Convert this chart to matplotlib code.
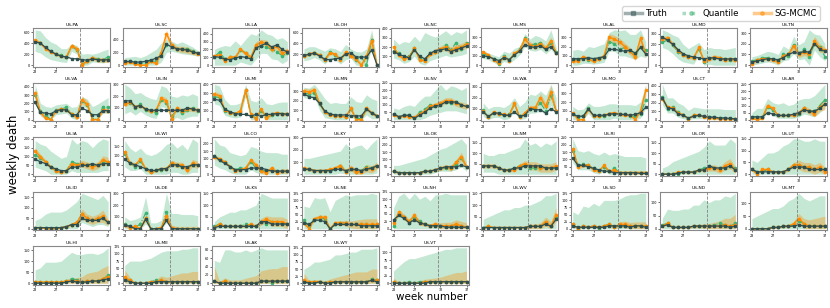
import numpy as np
import matplotlib.pyplot as plt
from matplotlib.lines import Line2D
from matplotlib.ticker import MultipleLocator

weeks = list(range(23, 38))
week_ticks = [23, 27, 32, 37]
forecast_start = 31.6

states = ['US-PA', 'US-SC', 'US-LA', 'US-OH', 'US-NC', 'US-MS', 'US-AL', 'US-MD', 'US-TN',
          'US-VA', 'US-IN', 'US-MI', 'US-MN', 'US-NV', 'US-WA', 'US-MO', 'US-CT', 'US-AR',
          'US-IA', 'US-WI', 'US-CO', 'US-KY', 'US-OK', 'US-NM', 'US-RI', 'US-OR', 'US-UT',
          'US-ID', 'US-DE', 'US-KS', 'US-NE', 'US-NH', 'US-WV', 'US-SD', 'US-ND', 'US-MT',
          'US-HI', 'US-ME', 'US-AK', 'US-WY', 'US-VT']

y_step = [200, 200, 100, 200, 100, 100, 100, 100, 100,
          100, 100, 100, 100, 50, 100, 100, 100, 50,
          50, 50, 50, 100, 50, 50, 50, 50, 50,
          50, 100, 50, 25, 25, 50, 25, 50, 50,
          50, 25, 20, 25, 25]

truth = [
    [420, 400, 320, 250, 200, 160, 150, 120, 115, 100, 90, 110, 100, 95, 100],
    [60, 60, 50, 50, 60, 80, 110, 150, 330, 290, 260, 250, 240, 210, 190],
    [110, 100, 80, 70, 90, 110, 100, 80, 220, 250, 280, 230, 260, 200, 170],
    [180, 200, 220, 170, 110, 100, 120, 130, 200, 230, 150, 150, 150, 280, 10],
    [150, 120, 100, 80, 170, 100, 70, 130, 160, 170, 180, 150, 170, 190, 210],
    [100, 90, 70, 50, 80, 60, 110, 150, 220, 200, 190, 210, 170, 200, 130],
    [70, 70, 70, 80, 70, 80, 90, 170, 170, 160, 150, 160, 130, 190, 120],
    [270, 240, 200, 150, 110, 90, 80, 70, 60, 70, 70, 60, 60, 60, 60],
    [30, 40, 50, 60, 60, 50, 70, 100, 120, 110, 130, 120, 200, 150, 130],
    [210, 90, 80, 70, 110, 120, 120, 60, 60, 140, 110, 60, 60, 110, 110],
    [160, 160, 110, 120, 90, 80, 80, 80, 80, 80, 80, 80, 100, 90, 80],
    [230, 220, 120, 90, 70, 60, 60, 40, 60, 40, 60, 60, 70, 70, 60],
    [270, 240, 230, 170, 90, 60, 50, 50, 50, 40, 40, 40, 110, 70, 40],
    [40, 20, 30, 30, 10, 30, 50, 80, 90, 100, 120, 120, 120, 100, 90],
    [70, 30, 60, 60, 40, 40, 70, 30, 40, 100, 90, 90, 60, 100, 70],
    [60, 40, 40, 120, 50, 50, 50, 60, 70, 60, 60, 50, 60, 80, 140],
    [260, 140, 130, 70, 50, 20, 40, 50, 40, 30, 30, 20, 20, 15, 10],
    [20, 20, 20, 50, 40, 30, 30, 30, 40, 50, 70, 60, 60, 80, 110],
    [85, 70, 60, 40, 30, 20, 20, 40, 40, 50, 50, 60, 50, 60, 60],
    [80, 60, 50, 40, 30, 20, 20, 30, 30, 50, 50, 40, 40, 50, 50],
    [120, 90, 70, 50, 30, 30, 30, 40, 40, 40, 30, 20, 20, 20, 20],
    [40, 40, 30, 30, 30, 30, 40, 40, 30, 40, 40, 30, 40, 50, 70],
    [20, 10, 10, 10, 10, 10, 20, 20, 30, 40, 50, 50, 50, 60, 50],
    [40, 40, 40, 30, 20, 20, 30, 30, 40, 40, 40, 40, 30, 30, 30],
    [110, 60, 60, 50, 40, 30, 20, 20, 10, 10, 10, 10, 10, 5, 5],
    [0, 0, 0, 5, 10, 10, 10, 20, 20, 40, 30, 30, 30, 40, 20],
    [20, 10, 10, 10, 10, 10, 10, 20, 30, 30, 30, 20, 20, 20, 20],
    [5, 5, 5, 5, 5, 5, 10, 20, 20, 50, 40, 40, 40, 50, 30],
    [30, 20, 0, 0, 80, 0, 0, 0, 70, 0, 0, 0, 0, 0, 0],
    [5, 10, 10, 10, 10, 10, 10, 10, 10, 30, 30, 20, 20, 20, 20],
    [20, 15, 30, 30, 25, 0, 15, 15, 15, 15, 15, 10, 10, 10, 10],
    [30, 45, 35, 20, 30, 20, 15, 10, 10, 10, 5, 5, 5, 5, 5],
    [5, 5, 5, 5, 5, 5, 5, 5, 5, 10, 10, 10, 20, 10, 40],
    [10, 5, 5, 5, 5, 5, 5, 10, 10, 10, 10, 5, 10, 10, 5],
    [10, 15, 5, 5, 5, 5, 10, 10, 10, 10, 10, 10, 10, 5, 10],
    [0, 0, 0, 0, 5, 5, 10, 10, 10, 15, 10, 10, 10, 10, 10],
    [0, 0, 0, 0, 0, 0, 5, 10, 5, 5, 5, 10, 10, 15, 20],
    [10, 5, 0, 0, 0, 0, 5, 5, 5, 5, 5, 5, 5, 5, 5],
    [5, 0, 0, 0, 0, 0, 0, 0, 0, 5, 5, 5, 5, 5, 5],
    [5, 0, 0, 5, 0, 0, 5, 5, 5, 5, 5, 5, 5, 10, 5],
    [0, 0, 0, 0, 0, 0, 0, 5, 5, 5, 5, 5, 5, 5, 5],
]

quantile = [
    [440, 400, 310, 250, 200, 180, 140, 340, 280, 20, 70, 130, 110, 100, 150],
    [50, 60, 40, 30, 40, 70, 60, 170, 320, 310, 260, 250, 260, 230, 190],
    [100, 170, 80, 100, 90, 190, 160, 100, 230, 240, 230, 200, 170, 120, 150],
    [170, 200, 230, 180, 100, 240, 190, 110, 210, 200, 100, 150, 0, 460, 0],
    [160, 130, 80, 100, 190, 70, 60, 130, 150, 170, 220, 170, 250, 180, 250],
    [120, 100, 70, 10, 100, 60, 110, 170, 290, 210, 230, 240, 170, 240, 140],
    [70, 60, 80, 60, 70, 70, 90, 250, 230, 170, 190, 150, 100, 200, 160],
    [220, 240, 190, 130, 100, 80, 70, 160, 30, 70, 70, 70, 60, 50, 60],
    [40, 50, 70, 70, 60, 40, 100, 90, 190, 110, 150, 80, 200, 170, 80],
    [300, 100, 60, 0, 120, 130, 150, 70, 50, 230, 180, 10, 0, 160, 150],
    [140, 140, 100, 130, 80, 70, 60, 170, 140, 30, 80, 60, 80, 100, 70],
    [260, 250, 100, 80, 60, 90, 330, 50, 20, 100, 30, 50, 70, 70, 60],
    [280, 270, 280, 160, 80, 60, 40, 40, 30, 110, 30, 0, 110, 70, 40],
    [40, 20, 30, 30, 10, 50, 70, 100, 90, 100, 120, 110, 120, 100, 90],
    [90, 20, 60, 50, 40, 50, 140, 30, 50, 100, 100, 150, 80, 220, 80],
    [70, 30, 40, 130, 40, 40, 40, 70, 60, 60, 60, 40, 40, 70, 220],
    [270, 130, 150, 90, 50, 10, 60, 50, 40, 30, 30, 20, 20, 10, 10],
    [20, 20, 20, 90, 70, 30, 30, 30, 30, 40, 80, 60, 60, 100, 140],
    [110, 90, 70, 40, 20, 10, 20, 70, 60, 60, 50, 50, 50, 70, 70],
    [110, 60, 40, 70, 30, 10, 20, 20, 30, 60, 50, 40, 30, 50, 50],
    [120, 90, 80, 50, 30, 40, 40, 80, 40, 30, 20, 30, 20, 20, 20],
    [40, 40, 30, 30, 30, 30, 40, 70, 30, 40, 20, 30, 60, 50, 70],
    [20, 10, 10, 10, 10, 10, 20, 20, 30, 40, 40, 40, 70, 110, 50],
    [40, 40, 40, 30, 20, 20, 30, 40, 40, 30, 30, 30, 30, 30, 30],
    [160, 60, 70, 60, 40, 20, 50, 20, 40, 10, 10, 10, 10, 10, 10],
    [0, 0, 0, 0, 10, 10, 10, 20, 30, 40, 30, 30, 30, 40, 30],
    [20, 10, 10, 20, 10, 10, 10, 20, 40, 40, 30, 30, 20, 20, 20],
    [5, 5, 5, 0, 5, 5, 10, 20, 30, 70, 50, 40, 50, 50, 30],
    [40, 20, 10, 40, 130, 0, 0, 0, 140, 0, 0, 0, 0, 0, 0],
    [10, 20, 10, 10, 10, 10, 20, 10, 10, 30, 20, 30, 30, 20, 20],
    [30, 10, 30, 40, 35, 0, 15, 20, 20, 15, 15, 15, 15, 10, 15],
    [10, 50, 40, 20, 40, 25, 15, 10, 10, 10, 10, 10, 10, 10, 5],
    [5, 10, 5, 5, 5, 5, 5, 5, 5, 10, 10, 10, 30, 10, 50],
    [15, 0, 10, 5, 10, 0, 10, 15, 5, 10, 10, 10, 10, 10, 10],
    [15, 20, 5, 5, 5, 5, 10, 10, 10, 10, 15, 20, 15, 10, 20],
    [0, 0, 0, 0, 5, 5, 10, 10, 15, 30, 20, 10, 10, 10, 10],
    [5, 5, 5, 5, 5, 5, 10, 20, 15, 5, 10, 10, 10, 20, 35],
    [15, 10, 0, 0, 0, 5, 10, 10, 5, 5, 5, 5, 5, 5, 5],
    [5, 0, 5, 0, 0, 0, 0, 0, 0, 5, 5, 0, 5, 5, 5],
    [5, 5, 5, 5, 0, 5, 5, 5, 5, 5, 5, 5, 5, 15, 10],
    [5, 0, 0, 5, 0, 5, 5, 5, 5, 5, 5, 5, 5, 5, 5],
]

quantile_lo = [
    [250, 220, 150, 100, 80, 60, 50, 250, 200, 0, 0, 60, 50, 40, 60],
    [0, 0, 0, 0, 0, 0, 0, 50, 200, 220, 200, 180, 170, 160, 140],
    [0, 0, 0, 0, 0, 40, 20, 0, 80, 150, 150, 80, 70, 20, 60],
    [80, 100, 140, 100, 20, 120, 100, 20, 100, 130, 0, 0, 0, 300, 0],
    [80, 60, 20, 40, 100, 20, 0, 50, 70, 90, 110, 90, 100, 110, 130],
    [70, 60, 30, 0, 40, 20, 60, 110, 200, 160, 150, 170, 120, 170, 100],
    [0, 0, 20, 20, 10, 20, 30, 150, 150, 100, 100, 80, 60, 100, 80],
    [170, 150, 110, 60, 30, 20, 10, 100, 0, 10, 0, 0, 0, 0, 0],
    [0, 10, 20, 30, 20, 0, 40, 50, 110, 50, 60, 0, 140, 80, 40],
    [200, 50, 0, 0, 60, 70, 80, 20, 0, 170, 130, 0, 0, 80, 80],
    [50, 70, 40, 70, 40, 20, 10, 110, 100, 0, 20, 0, 20, 30, 30],
    [180, 160, 50, 30, 20, 30, 270, 0, 0, 50, 0, 0, 0, 0, 0],
    [230, 220, 240, 100, 20, 10, 0, 0, 0, 30, 0, 0, 50, 10, 10],
    [0, 0, 0, 0, 0, 0, 10, 30, 40, 50, 60, 60, 60, 50, 40],
    [30, 0, 20, 20, 0, 10, 70, 0, 10, 60, 60, 80, 40, 130, 40],
    [0, 0, 0, 70, 0, 0, 0, 0, 20, 0, 0, 0, 0, 20, 130],
    [180, 80, 80, 30, 10, 0, 10, 10, 10, 0, 0, 0, 0, 0, 0],
    [0, 0, 0, 50, 30, 10, 10, 10, 10, 20, 40, 30, 20, 50, 80],
    [40, 30, 20, 0, 0, 0, 0, 20, 10, 10, 10, 10, 10, 20, 20],
    [40, 20, 20, 30, 0, 0, 0, 0, 0, 10, 10, 0, 0, 10, 10],
    [60, 40, 30, 10, 0, 0, 0, 30, 10, 0, 0, 0, 0, 0, 0],
    [0, 0, 0, 0, 0, 0, 0, 10, 0, 0, 0, 0, 0, 0, 10],
    [0, 0, 0, 0, 0, 0, 0, 0, 10, 20, 20, 20, 30, 50, 20],
    [10, 10, 10, 0, 0, 0, 0, 0, 0, 0, 0, 0, 0, 0, 0],
    [80, 30, 30, 30, 10, 0, 20, 0, 0, 0, 0, 0, 0, 0, 0],
    [0, 0, 0, 0, 0, 0, 0, 0, 0, 0, 0, 0, 0, 0, 0],
    [0, 0, 0, 0, 0, 0, 0, 0, 0, 0, 0, 0, 0, 0, 0],
    [0, 0, 0, 0, 0, 0, 0, 0, 0, 30, 20, 10, 20, 20, 10],
    [0, 0, 0, 0, 40, 0, 0, 0, 50, 0, 0, 0, 0, 0, 0],
    [0, 0, 0, 0, 0, 0, 0, 0, 0, 0, 0, 0, 0, 0, 0],
    [0, 0, 0, 0, 0, 0, 0, 0, 0, 0, 0, 0, 0, 0, 0],
    [0, 0, 0, 0, 0, 0, 0, 0, 0, 0, 0, 0, 0, 0, 0],
    [0, 0, 0, 0, 0, 0, 0, 0, 0, 0, 0, 0, 0, 0, 0],
    [0, 0, 0, 0, 0, 0, 0, 0, 0, 0, 0, 0, 0, 0, 0],
    [0, 0, 0, 0, 0, 0, 0, 0, 0, 0, 0, 0, 0, 0, 0],
    [0, 0, 0, 0, 0, 0, 0, 0, 0, 0, 0, 0, 0, 0, 0],
    [0, 0, 0, 0, 0, 0, 0, 0, 0, 0, 0, 0, 0, 0, 0],
    [0, 0, 0, 0, 0, 0, 0, 0, 0, 0, 0, 0, 0, 0, 0],
    [0, 0, 0, 0, 0, 0, 0, 0, 0, 0, 0, 0, 0, 0, 0],
    [0, 0, 0, 0, 0, 0, 0, 0, 0, 0, 0, 0, 0, 0, 0],
    [0, 0, 0, 0, 0, 0, 0, 0, 0, 0, 0, 0, 0, 0, 0],
]

quantile_hi = [
    [640, 620, 500, 420, 380, 300, 300, 380, 360, 200, 210, 200, 220, 260, 290],
    [120, 130, 140, 120, 150, 200, 250, 350, 420, 380, 340, 370, 330, 290, 230],
    [200, 230, 250, 240, 310, 250, 330, 400, 380, 450, 400, 380, 330, 350, 300],
    [300, 340, 340, 300, 260, 320, 300, 250, 380, 300, 250, 240, 300, 650, 100],
    [290, 230, 260, 250, 320, 260, 360, 330, 310, 340, 380, 330, 370, 350, 390],
    [160, 130, 110, 90, 150, 130, 180, 200, 340, 280, 320, 300, 260, 380, 190],
    [160, 170, 150, 200, 190, 210, 230, 350, 380, 370, 380, 330, 330, 380, 250],
    [340, 320, 290, 270, 200, 160, 190, 220, 150, 170, 160, 160, 150, 160, 170],
    [80, 90, 110, 130, 120, 100, 180, 150, 270, 190, 220, 330, 290, 280, 200],
    [430, 200, 160, 150, 180, 190, 200, 150, 160, 280, 250, 160, 190, 230, 270],
    [300, 270, 220, 230, 200, 180, 170, 290, 270, 200, 190, 210, 200, 220, 200],
    [400, 380, 230, 170, 170, 190, 400, 220, 200, 250, 180, 170, 190, 200, 200],
    [340, 330, 370, 300, 220, 170, 180, 170, 170, 240, 190, 180, 260, 220, 200],
    [80, 70, 90, 100, 90, 130, 160, 160, 200, 240, 200, 230, 220, 200, 220],
    [150, 100, 120, 120, 110, 140, 200, 120, 160, 230, 220, 260, 220, 320, 200],
    [150, 110, 120, 190, 150, 150, 160, 180, 180, 170, 170, 170, 160, 200, 400],
    [420, 260, 260, 200, 170, 110, 150, 140, 130, 130, 130, 130, 120, 120, 120],
    [50, 80, 80, 150, 120, 110, 120, 100, 110, 140, 150, 150, 170, 210, 250],
    [190, 170, 160, 130, 110, 90, 100, 200, 170, 190, 180, 150, 180, 200, 190],
    [180, 140, 120, 140, 110, 100, 110, 130, 160, 170, 140, 160, 130, 190, 170],
    [230, 190, 180, 140, 130, 120, 130, 180, 170, 150, 140, 140, 140, 130, 130],
    [130, 130, 140, 150, 160, 170, 180, 190, 250, 210, 230, 240, 200, 250, 290],
    [60, 60, 70, 80, 90, 100, 110, 130, 150, 170, 180, 200, 220, 240, 200],
    [100, 90, 90, 100, 100, 110, 120, 130, 170, 140, 150, 130, 150, 140, 160],
    [240, 160, 150, 160, 140, 130, 150, 130, 140, 130, 120, 120, 120, 120, 110],
    [30, 40, 60, 70, 80, 90, 100, 110, 130, 160, 140, 140, 140, 170, 150],
    [60, 50, 70, 90, 90, 100, 120, 130, 150, 150, 140, 140, 150, 140, 140],
    [40, 50, 70, 80, 80, 80, 90, 110, 130, 170, 160, 150, 140, 160, 130],
    [100, 70, 80, 100, 270, 50, 50, 70, 300, 130, 130, 120, 120, 120, 110],
    [30, 50, 60, 70, 70, 80, 80, 90, 100, 150, 140, 130, 130, 130, 130],
    [80, 75, 110, 105, 110, 60, 100, 110, 120, 115, 120, 120, 120, 125, 120],
    [70, 110, 120, 100, 120, 100, 110, 95, 115, 115, 120, 115, 115, 115, 115],
    [40, 50, 60, 70, 80, 80, 90, 90, 100, 100, 110, 120, 140, 140, 150],
    [60, 50, 80, 75, 90, 80, 100, 100, 100, 105, 115, 120, 120, 125, 125],
    [40, 75, 70, 70, 75, 75, 90, 90, 110, 100, 110, 110, 125, 120, 135],
    [40, 50, 60, 70, 80, 80, 90, 110, 120, 140, 120, 110, 120, 130, 130],
    [60, 70, 95, 95, 95, 100, 120, 140, 130, 130, 135, 135, 130, 140, 160],
    [60, 75, 75, 75, 80, 85, 95, 105, 110, 110, 110, 115, 115, 120, 120],
    [55, 50, 80, 80, 75, 75, 80, 75, 80, 85, 80, 80, 80, 80, 80],
    [50, 60, 75, 75, 80, 85, 100, 100, 105, 110, 110, 120, 120, 120, 125],
    [40, 55, 70, 80, 80, 85, 90, 95, 100, 105, 110, 110, 115, 115, 115],
]

sg_mcmc = [
    [450, 400, 300, 240, 200, 160, 150, 350, 300, 10, 80, 130, 100, 95, 90],
    [40, 50, 20, 0, 0, 60, 30, 200, 500, 320, 260, 250, 240, 210, 180],
    [120, 130, 50, 110, 100, 200, 150, 100, 260, 290, 280, 200, 240, 150, 180],
    [160, 210, 230, 180, 90, 230, 200, 100, 240, 170, 110, 0, 160, 450, 0],
    [200, 110, 70, 90, 190, 60, 50, 120, 150, 180, 200, 160, 190, 200, 230],
    [140, 110, 60, 20, 90, 50, 130, 160, 280, 220, 200, 230, 180, 260, 130],
    [40, 50, 90, 70, 40, 70, 100, 300, 280, 250, 200, 150, 90, 290, 120],
    [250, 260, 200, 140, 100, 80, 70, 170, 40, 60, 80, 70, 50, 60, 50],
    [10, 50, 60, 60, 50, 30, 90, 100, 180, 100, 120, 100, 230, 160, 140],
    [320, 90, 20, 0, 110, 130, 120, 70, 30, 240, 190, 0, 0, 120, 110],
    [130, 150, 110, 120, 90, 70, 80, 180, 160, 10, 100, 70, 90, 90, 80],
    [290, 270, 110, 80, 70, 100, 330, 60, 10, 120, 20, 60, 80, 60, 70],
    [300, 290, 310, 170, 80, 50, 40, 40, 30, 120, 0, 0, 120, 70, 40],
    [35, 20, 25, 20, 15, 40, 60, 90, 100, 110, 130, 130, 110, 100, 90],
    [80, 20, 70, 50, 50, 40, 150, 20, 60, 110, 110, 200, 120, 250, 80],
    [80, 0, 0, 120, 40, 40, 50, 70, 80, 60, 50, 50, 0, 100, 330],
    [250, 150, 140, 80, 60, 10, 50, 60, 30, 20, 20, 10, 10, 10, 5],
    [10, 0, 10, 100, 80, 30, 30, 30, 30, 50, 80, 60, 40, 90, 110],
    [130, 100, 70, 40, 20, 10, 20, 60, 50, 60, 50, 40, 50, 80, 70],
    [120, 60, 50, 80, 30, 10, 20, 30, 30, 60, 50, 50, 20, 60, 50],
    [110, 100, 80, 50, 20, 30, 40, 90, 60, 20, 10, 40, 10, 20, 20],
    [50, 40, 30, 30, 30, 40, 50, 70, 20, 50, 20, 20, 50, 40, 70],
    [20, 10, 10, 10, 10, 10, 20, 20, 30, 40, 50, 40, 80, 120, 50],
    [40, 40, 40, 30, 20, 20, 20, 40, 50, 40, 40, 30, 30, 30, 40],
    [170, 50, 60, 60, 30, 20, 60, 20, 30, 10, 10, 10, 10, 10, 10],
    [0, 0, 0, 10, 10, 10, 10, 20, 20, 30, 30, 20, 40, 50, 20],
    [20, 0, 20, 20, 10, 10, 10, 20, 40, 40, 30, 30, 20, 30, 10],
    [5, 5, 0, 0, 0, 5, 10, 20, 30, 70, 50, 40, 50, 60, 30],
    [30, 10, 20, 0, 90, 0, 0, 10, 110, 10, 0, 0, 0, 0, 0],
    [5, 20, 10, 10, 10, 10, 10, 20, 10, 30, 40, 30, 30, 30, 20],
    [20, 0, 35, 40, 40, 0, 20, 20, 20, 15, 15, 15, 15, 15, 15],
    [20, 55, 40, 25, 45, 20, 15, 10, 15, 10, 10, 10, 15, 10, 5],
    [0, 10, 5, 5, 5, 5, 5, 5, 5, 10, 10, 10, 30, 10, 60],
    [15, 0, 10, 5, 10, 5, 10, 15, 5, 15, 15, 10, 10, 10, 10],
    [10, 20, 5, 5, 5, 5, 10, 10, 10, 10, 10, 10, 15, 10, 15],
    [0, 0, 0, 0, 5, 5, 10, 10, 20, 40, 20, 10, 10, 10, 10],
    [5, 5, 5, 5, 5, 5, 10, 10, 10, 5, 10, 10, 10, 20, 30],
    [20, 10, 0, 0, 0, 5, 5, 10, 5, 5, 5, 5, 5, 5, 5],
    [5, 0, 5, 0, 0, 0, 0, 0, 0, 5, 5, 5, 5, 5, 5],
    [10, 5, 5, 5, 0, 5, 5, 5, 5, 5, 5, 5, 5, 10, 10],
    [5, 0, 0, 0, 0, 0, 5, 5, 5, 5, 5, 5, 5, 5, 5],
]

# half width of the SG-MCMC band
sg_spread = [
    [30, 30, 25, 25, 25, 20, 20, 40, 40, 30, 40, 40, 40, 40, 40],
    [20, 20, 20, 15, 15, 20, 20, 40, 60, 50, 40, 50, 50, 40, 30],
    [20, 20, 15, 20, 20, 25, 25, 25, 40, 40, 40, 40, 40, 40, 40],
    [30, 30, 30, 30, 25, 30, 30, 30, 40, 40, 40, 50, 60, 120, 20],
    [20, 20, 15, 15, 20, 15, 15, 20, 30, 30, 40, 40, 40, 40, 40],
    [15, 15, 10, 10, 15, 10, 15, 20, 40, 30, 30, 30, 30, 40, 20],
    [20, 20, 20, 20, 15, 15, 20, 40, 40, 40, 40, 40, 40, 50, 20],
    [25, 25, 20, 15, 15, 15, 15, 20, 20, 20, 20, 20, 20, 20, 20],
    [15, 15, 15, 15, 15, 15, 15, 20, 30, 30, 30, 30, 40, 40, 30],
    [60, 30, 20, 10, 20, 20, 20, 20, 30, 50, 40, 20, 20, 30, 30],
    [20, 20, 15, 15, 15, 15, 15, 25, 25, 20, 20, 20, 20, 20, 20],
    [30, 30, 20, 15, 15, 15, 40, 20, 15, 20, 20, 20, 20, 20, 20],
    [30, 30, 30, 20, 15, 10, 10, 10, 10, 30, 20, 20, 30, 20, 20],
    [10, 8, 8, 8, 8, 10, 10, 15, 15, 20, 20, 20, 20, 20, 20],
    [15, 10, 10, 10, 10, 10, 20, 10, 15, 20, 20, 40, 30, 60, 20],
    [15, 10, 10, 20, 10, 10, 10, 15, 15, 15, 15, 15, 15, 20, 60],
    [30, 20, 20, 15, 10, 10, 10, 10, 10, 10, 10, 10, 10, 10, 10],
    [8, 8, 8, 15, 10, 8, 8, 8, 10, 15, 20, 20, 20, 30, 40],
    [20, 15, 12, 10, 8, 8, 8, 15, 15, 20, 20, 20, 20, 25, 25],
    [15, 10, 10, 12, 8, 8, 8, 8, 10, 15, 15, 15, 15, 20, 20],
    [15, 12, 10, 10, 8, 8, 8, 15, 15, 15, 15, 15, 15, 15, 15],
    [15, 15, 12, 12, 12, 12, 15, 20, 20, 25, 25, 25, 30, 30, 30],
    [8, 8, 8, 8, 8, 8, 8, 10, 10, 15, 15, 20, 20, 30, 20],
    [10, 10, 10, 8, 8, 8, 8, 10, 15, 20, 20, 20, 20, 20, 20],
    [25, 15, 12, 12, 10, 8, 10, 8, 10, 15, 15, 15, 15, 15, 15],
    [3, 3, 3, 3, 4, 4, 5, 6, 8, 15, 15, 15, 20, 25, 15],
    [5, 5, 5, 5, 5, 5, 5, 8, 10, 20, 20, 20, 20, 20, 20],
    [3, 3, 3, 3, 3, 3, 5, 8, 10, 25, 20, 20, 20, 30, 15],
    [15, 10, 10, 15, 30, 8, 8, 10, 40, 20, 20, 20, 20, 20, 20],
    [3, 5, 4, 4, 4, 4, 5, 5, 6, 15, 15, 20, 20, 20, 20],
    [8, 8, 8, 8, 8, 5, 8, 8, 10, 12, 15, 18, 20, 20, 20],
    [8, 10, 10, 8, 10, 8, 6, 6, 8, 10, 12, 12, 15, 15, 15],
    [3, 3, 3, 3, 3, 3, 3, 3, 5, 10, 10, 15, 20, 20, 30],
    [5, 3, 5, 4, 4, 4, 5, 6, 6, 10, 12, 12, 14, 14, 14],
    [5, 8, 4, 4, 4, 4, 6, 6, 8, 10, 15, 20, 25, 30, 40],
    [2, 2, 2, 2, 3, 3, 5, 6, 8, 20, 20, 25, 30, 35, 40],
    [10, 5, 5, 5, 5, 5, 8, 15, 15, 25, 35, 40, 45, 50, 50],
    [25, 10, 3, 3, 3, 5, 10, 15, 15, 20, 25, 30, 30, 35, 35],
    [35, 5, 8, 8, 8, 8, 12, 15, 18, 25, 28, 30, 30, 35, 35],
    [25, 5, 8, 8, 8, 10, 15, 20, 25, 30, 35, 35, 35, 40, 40],
    [12, 5, 5, 5, 5, 8, 8, 10, 12, 15, 20, 25, 30, 30, 35],
]

c_truth = 'darkslategray'
c_quant = 'mediumseagreen'
c_mcmc = 'darkorange'

fig = plt.figure(figsize=(8.3, 3.08), dpi=100)
gs = fig.add_gridspec(5, 9, left=0.0398, right=0.9964, top=0.909, bottom=0.0747,
                      wspace=0.161, hspace=0.40)

for i, name in enumerate(states):
    ax = fig.add_subplot(gs[i // 9, i % 9])
    med = np.array(sg_mcmc[i], dtype=float)
    spread = np.array(sg_spread[i], dtype=float)
    ax.fill_between(weeks, quantile_lo[i], quantile_hi[i], color=c_quant, alpha=0.3, lw=0)
    ax.fill_between(weeks, np.clip(med - spread, 0, None), med + spread,
                    color=c_mcmc, alpha=0.35, lw=0)
    ax.plot(weeks, quantile[i], color=c_quant, ls='-.', lw=0.8, marker='o', ms=1.6)
    ax.plot(weeks, med, color=c_mcmc, lw=1.0, marker='o', ms=1.6)
    ax.plot(weeks, truth[i], color=c_truth, lw=0.9, marker='s', ms=1.5)
    ax.axvline(forecast_start, color='grey', ls='--', lw=0.6)

    ax.set_xlim(22.6, 37.4)
    ax.set_xticks(week_ticks)
    ax.yaxis.set_major_locator(MultipleLocator(y_step[i]))
    ax.tick_params(labelsize=2.4, length=1.2, width=0.4, pad=1)
    ax.set_title(name, fontsize=3.2, pad=1.5)
    for s in ax.spines.values():
        s.set_color('#888888')
        s.set_linewidth(0.8)

handles = [
    Line2D([], [], color=c_truth, lw=2.5, alpha=0.45, marker='s', ms=2.5,
           markerfacecolor=c_truth, markeredgecolor=c_truth),
    Line2D([], [], color=c_quant, lw=2.5, alpha=0.45, ls=':', marker='o', ms=2.5),
    Line2D([], [], color=c_mcmc, lw=2.5, alpha=0.45, marker='o', ms=2.5),
]
fig.legend(handles, ['Truth', 'Quantile', 'SG-MCMC'], loc='upper right',
           bbox_to_anchor=(0.993, 0.995), ncol=3, fontsize=6.2, frameon=True,
           handlelength=2.0, handletextpad=0.4, columnspacing=1.7, borderpad=0.35)

fig.text(0.52, 0.02, 'week number', ha='center', va='bottom', fontsize=7.5)
fig.text(0.008, 0.5, 'weekly death', ha='left', va='center', rotation=90, fontsize=8.5)

plt.savefig('out.png', dpi=100)
